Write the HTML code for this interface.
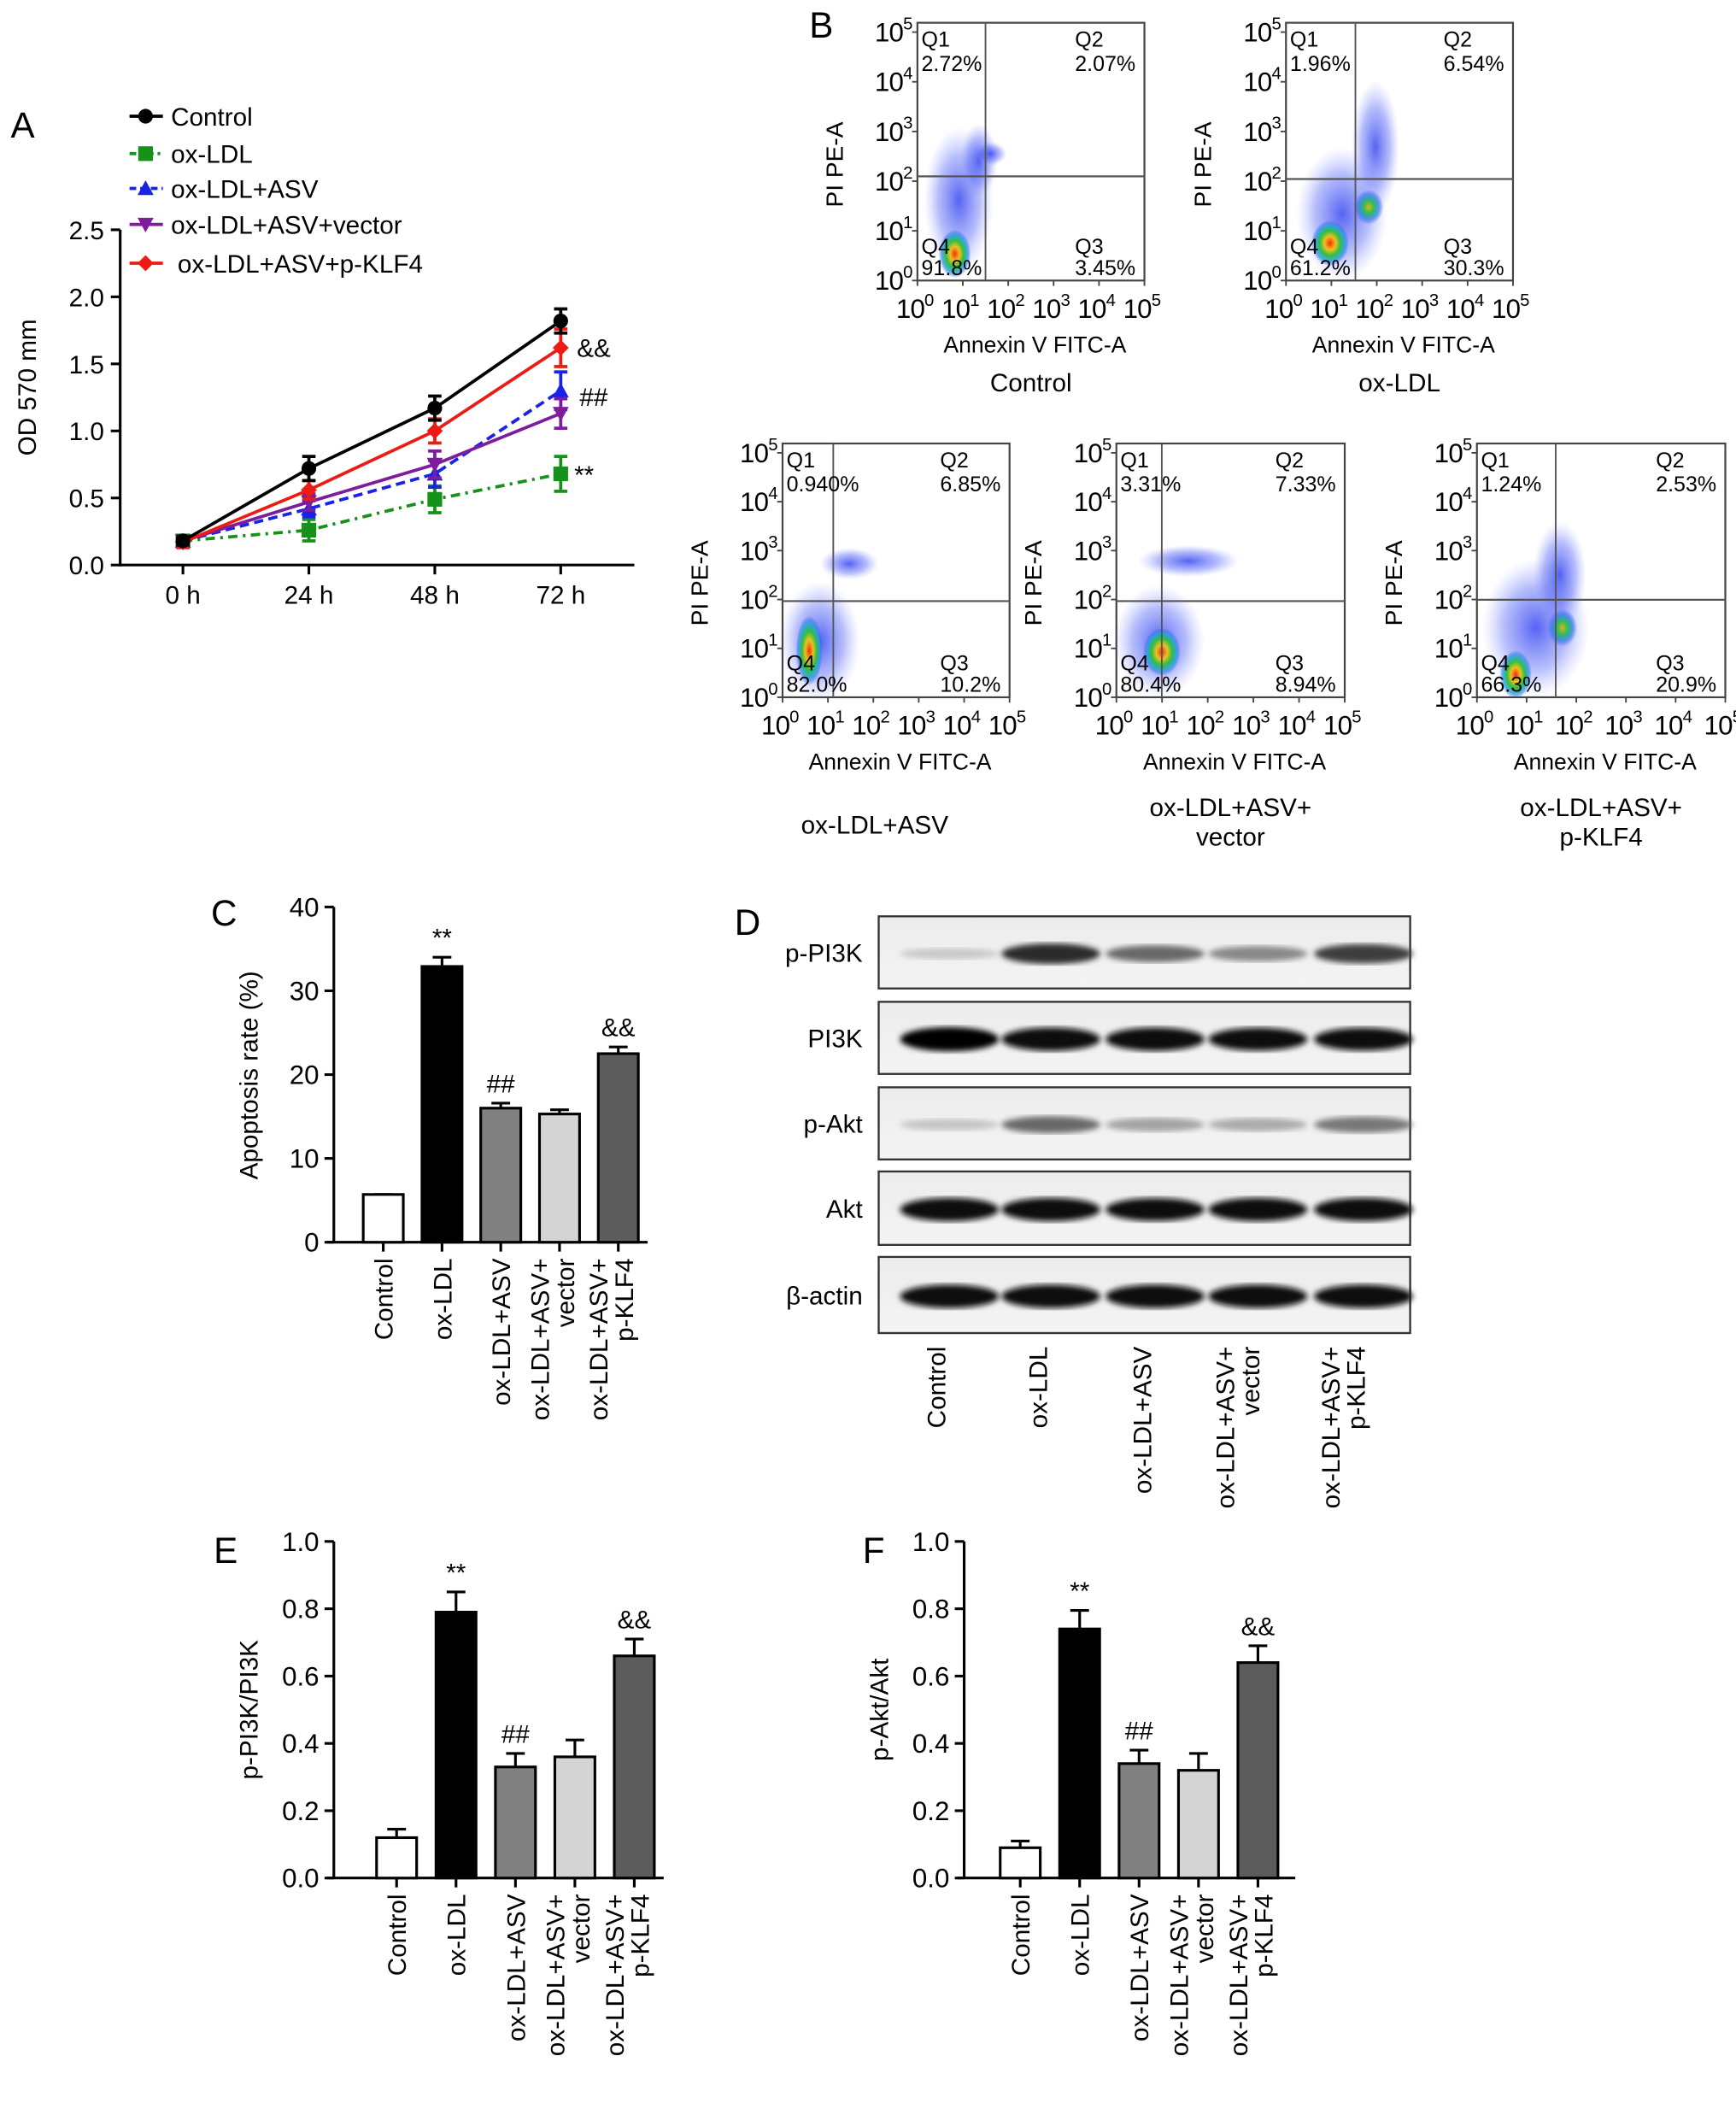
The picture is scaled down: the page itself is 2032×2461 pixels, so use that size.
<!DOCTYPE html>
<html><head><meta charset="utf-8"><style>
html,body{margin:0;padding:0;background:#fff;}
svg{display:block;font-family:"Liberation Sans",Arial,sans-serif;}
</style></head><body>
<svg id="fig" width="2032" height="2461" viewBox="0 0 1300 1574.4" xmlns="http://www.w3.org/2000/svg">
<defs>
<radialGradient id="gBlue"><stop offset="0" stop-color="#2a3cf0" stop-opacity="0.8"/><stop offset="0.6" stop-color="#4a5cf5" stop-opacity="0.4"/><stop offset="1" stop-color="#8a96ff" stop-opacity="0"/></radialGradient>
<radialGradient id="gHot"><stop offset="0" stop-color="#f03010"/><stop offset="0.3" stop-color="#f0c020"/><stop offset="0.55" stop-color="#30c040"/><stop offset="0.8" stop-color="#20a0e0" stop-opacity="0.8"/><stop offset="1" stop-color="#3040f0" stop-opacity="0"/></radialGradient>
<radialGradient id="gGreen"><stop offset="0" stop-color="#e0b020"/><stop offset="0.35" stop-color="#30c050"/><stop offset="0.7" stop-color="#2080e0" stop-opacity="0.7"/><stop offset="1" stop-color="#3040f0" stop-opacity="0"/></radialGradient>
<linearGradient id="blotBg" x1="0" y1="0" x2="0" y2="1"><stop offset="0" stop-color="#ececec"/><stop offset="1" stop-color="#f4f4f4"/></linearGradient>
<filter id="blur2"><feGaussianBlur stdDeviation="2.2"/></filter>
</defs>
<g id="panelA"></g>
<g id="panelB"></g>
<g id="panelC"></g>
<g id="panelD"></g>
<g id="panelE"></g>
<g id="panelF"></g>
</svg>
<script>
// ---------- DATA ----------
const timeLabels = ["0 h","24 h","48 h","72 h"];
const seriesNames = ["Control","ox-LDL","ox-LDL+ASV","ox-LDL+ASV+vector","ox-LDL+ASV+p-KLF4"];
const controlVals = [0.18,0.72,1.17,1.82];
const oxldlVals = [0.18,0.26,0.49,0.68];
const asvVals = [0.18,0.42,0.68,1.30];
const vectorVals = [0.18,0.47,0.75,1.13];
const klf4Vals = [0.17,0.56,1.00,1.62];
const controlErr = [0.03,0.09,0.09,0.09];
const oxldlErr = [0.03,0.08,0.10,0.13];
const asvErr = [0.03,0.06,0.10,0.14];
const vectorErr = [0.03,0.06,0.10,0.11];
const klf4Err = [0.04,0.07,0.09,0.14];
const odTicks = [0.0,0.5,1.0,1.5,2.0,2.5];

const groups = ["Control","ox-LDL","ox-LDL+ASV","ox-LDL+ASV+|vector","ox-LDL+ASV+|p-KLF4"];
const apoptosisVals = [5.7,32.9,16.0,15.3,22.5];
const apoptosisErr = [0,1.1,0.6,0.5,0.8];
const apoptosisTicks = [0,10,20,30,40];
const apoptosisMarks = ["","**","##","","&&"];
const pi3kVals = [0.12,0.79,0.33,0.36,0.66];
const pi3kErr = [0.025,0.06,0.04,0.05,0.05];
const aktVals = [0.09,0.74,0.34,0.32,0.64];
const aktErr = [0.02,0.055,0.04,0.05,0.05];
const fracTicks = [0.0,0.2,0.4,0.6,0.8,1.0];
const sigMarks = ["","**","##","","&&"];

const NS = "http://www.w3.org/2000/svg";
function mk(parent, tag, attrs, name, txt) {
  const el = document.createElementNS(NS, tag);
  for (const k in attrs) el.setAttribute(k, attrs[k]);
  
  
  if (txt !== undefined) el.textContent = txt;
  parent.appendChild(el);
  return el;
}

// ---------- PANEL A ----------
(function(){
  const g = document.getElementById('panelA');
  const x0 = 90, y0 = 423, yTop = 172, maxV = 2.5;
  const yA = v => y0 - v / maxV * (y0 - yTop);
  const xA = i => 137 + i * 94.3;
  mk(g,'text',{x:8,y:103,'font-size':27},'panel-label-a','A');
  mk(g,'line',{x1:x0,y1:yTop,x2:x0,y2:y0+1,stroke:'#000','stroke-width':2},'y-axis');
  mk(g,'line',{x1:x0-1,y1:y0,x2:475,y2:y0,stroke:'#000','stroke-width':2},'x-axis');
  odTicks.forEach(t=>{
    mk(g,'line',{x1:x0-7,y1:yA(t),x2:x0,y2:yA(t),stroke:'#000','stroke-width':2},'y-tick');
    mk(g,'text',{x:x0-12,y:yA(t)+7,'font-size':19,'text-anchor':'end'},'y-tick-label',t.toFixed(1));
  });
  timeLabels.forEach((l,i)=>{
    mk(g,'line',{x1:xA(i),y1:y0,x2:xA(i),y2:y0+7,stroke:'#000','stroke-width':2},'x-tick');
    mk(g,'text',{x:xA(i),y:y0+29,'font-size':19,'text-anchor':'middle'},'x-tick-label',l);
  });
  mk(g,'text',{x:0,y:0,'font-size':19,'text-anchor':'middle',transform:'translate(27,290) rotate(-90)'},'y-axis-title','OD 570 mm');
  const series = [
    {v:oxldlVals,e:oxldlErr,c:'#16921a',dash:'7,4,2,4',m:'sq'},
    {v:asvVals,e:asvErr,c:'#1a22e8',dash:'7,4',m:'tri'},
    {v:vectorVals,e:vectorErr,c:'#7e1d9c',dash:'',m:'dtri'},
    {v:klf4Vals,e:klf4Err,c:'#ee1a14',dash:'',m:'dia'},
    {v:controlVals,e:controlErr,c:'#000',dash:'',m:'circ'}
  ];
  function marker(gg,m,x,y,c,name){
    if(m==='circ') return mk(gg,'circle',{cx:x,cy:y,r:5.5,fill:c},name);
    if(m==='sq') return mk(gg,'rect',{x:x-5.5,y:y-5.5,width:11,height:11,fill:c},name);
    if(m==='tri') return mk(gg,'polygon',{points:`${x},${y-6} ${x-6},${y+5} ${x+6},${y+5}`,fill:c},name);
    if(m==='dtri') return mk(gg,'polygon',{points:`${x},${y+6} ${x-6},${y-5} ${x+6},${y-5}`,fill:c},name);
    return mk(gg,'polygon',{points:`${x},${y-6} ${x-6},${y} ${x},${y+6} ${x+6},${y}`,fill:c},name);
  }
  series.forEach((s,si)=>{
    const sg = mk(g,'g',{},'series-'+si);
    const pts = s.v.map((v,i)=>xA(i)+','+yA(v)).join(' ');
    const ln = mk(sg,'polyline',{points:pts,fill:'none',stroke:s.c,'stroke-width':2.4},'series-line');
    if(s.dash) ln.setAttribute('stroke-dasharray',s.dash);
    s.v.forEach((v,i)=>{
      const x=xA(i);
      mk(sg,'line',{x1:x,y1:yA(v+s.e[i]),x2:x,y2:yA(v-s.e[i]),stroke:s.c,'stroke-width':2.4},'error-bar');
      mk(sg,'line',{x1:x-5,y1:yA(v+s.e[i]),x2:x+5,y2:yA(v+s.e[i]),stroke:s.c,'stroke-width':2.4},'error-cap');
      mk(sg,'line',{x1:x-5,y1:yA(v-s.e[i]),x2:x+5,y2:yA(v-s.e[i]),stroke:s.c,'stroke-width':2.4},'error-cap');
      marker(sg,s.m,x,yA(v),s.c,'data-point');
    });
  });
  mk(g,'text',{x:432,y:267,'font-size':19},'sig-klf4','&&');
  mk(g,'text',{x:434,y:304,'font-size':19},'sig-asv','##');
  mk(g,'text',{x:430,y:362,'font-size':19},'sig-oxldl','**');
  const leg = [
    {n:seriesNames[0],c:'#000',d:'',m:'circ',y:87},
    {n:seriesNames[1],c:'#16921a',d:'5,3,2,3',m:'sq',y:115},
    {n:seriesNames[2],c:'#1a22e8',d:'5,3',m:'tri',y:141},
    {n:seriesNames[3],c:'#7e1d9c',d:'',m:'dtri',y:168},
    {n:seriesNames[4],c:'#ee1a14',d:'',m:'dia',y:197}
  ];
  leg.forEach((l,i)=>{
    const lg = mk(g,'g',{},'legend-entry');
    const ln = mk(lg,'line',{x1:97,y1:l.y,x2:122,y2:l.y,stroke:l.c,'stroke-width':2.4},'legend-line');
    if(l.d) ln.setAttribute('stroke-dasharray',l.d);
    marker(lg,l.m,109,l.y,l.c,'legend-marker');
    mk(lg,'text',{x:i===4?133:128,y:l.y+7,'font-size':19},'legend-label',l.n);
  });
})();

// ---------- PANEL B (flow cytometry) ----------
(function(){
  const g = document.getElementById('panelB');
  mk(g,'text',{x:606,y:28,'font-size':27},'panel-label-b','B');
  const plots = [
    {x:687,y:17,w:170,h:193,vg:738,hg:132,q:['2.72%','2.07%','91.8%','3.45%'],title:['Control'],ty:293,
      blobs:[['gBlue',718,150,26,55],['gBlue',733,120,14,28],['gBlue',742,115,12,9],['gHot',715,190,12,18]]},
    {x:963,y:17,w:170,h:193,vg:1015,hg:134,q:['1.96%','6.54%','61.2%','30.3%'],title:['ox-LDL'],ty:293,
      blobs:[['gBlue',1005,160,34,50],['gBlue',1030,110,18,50],['gGreen',1025,155,11,13],['gHot',996,182,14,17]]},
    {x:586,y:332,w:170,h:190,vg:624,hg:450,q:['0.940%','6.85%','82.0%','10.2%'],title:['ox-LDL+ASV'],ty:624,
      blobs:[['gBlue',614,480,30,45],['gBlue',636,422,22,12],['gHot',606,487,10,26]]},
    {x:836,y:332,w:171,h:190,vg:870,hg:450,q:['3.31%','7.33%','80.4%','8.94%'],title:['ox-LDL+ASV+','vector'],ty:611,
      blobs:[['gBlue',868,480,34,42],['gBlue',890,420,38,12],['gHot',870,488,14,18]]},
    {x:1106,y:332,w:186,h:190,vg:1165,hg:449,q:['1.24%','2.53%','66.3%','20.9%'],title:['ox-LDL+ASV+','p-KLF4'],ty:611,
      blobs:[['gBlue',1150,470,40,52],['gBlue',1168,430,20,40],['gGreen',1170,470,11,14],['gHot',1135,505,12,18]]}
  ];
  plots.forEach((p,pi)=>{
    const pg = mk(g,'g',{},'flow-plot-'+pi);
    p.blobs.forEach(b=>mk(pg,'ellipse',{cx:b[1],cy:b[2],rx:b[3],ry:b[4],fill:'url(#'+b[0]+')'},'cell-density'));
    mk(pg,'rect',{x:p.x,y:p.y,width:p.w,height:p.h,fill:'none',stroke:'#444','stroke-width':1.4},'plot-frame');
    mk(pg,'line',{x1:p.vg,y1:p.y,x2:p.vg,y2:p.y+p.h,stroke:'#555','stroke-width':1.2},'gate-vertical');
    mk(pg,'line',{x1:p.x,y1:p.hg,x2:p.x+p.w,y2:p.hg,stroke:'#555','stroke-width':1.4},'gate-horizontal');
    const fs=16;
    mk(pg,'text',{x:p.x+3,y:p.y+18,'font-size':fs},'q1-label','Q1');
    mk(pg,'text',{x:p.x+3,y:p.y+36,'font-size':fs},'q1-value',p.q[0]);
    mk(pg,'text',{x:p.x+p.w-52,y:p.y+18,'font-size':fs},'q2-label','Q2');
    mk(pg,'text',{x:p.x+p.w-52,y:p.y+36,'font-size':fs},'q2-value',p.q[1]);
    mk(pg,'text',{x:p.x+3,y:p.y+p.h-20,'font-size':fs},'q4-label','Q4');
    mk(pg,'text',{x:p.x+3,y:p.y+p.h-4,'font-size':fs},'q4-value',p.q[2]);
    mk(pg,'text',{x:p.x+p.w-52,y:p.y+p.h-20,'font-size':fs},'q3-label','Q3');
    mk(pg,'text',{x:p.x+p.w-52,y:p.y+p.h-4,'font-size':fs},'q3-value',p.q[3]);
    for(let k=0;k<=5;k++){
      const yy = p.y+p.h - k*(p.h-7)/5;
      const t = mk(pg,'text',{x:p.x-4,y:yy+7,'font-size':20,'text-anchor':'end','letter-spacing':'-0.5'},'y-tick-label');
      t.innerHTML = '10<tspan dy="-9" font-size="13">'+k+'</tspan>';
      const xx = p.x + k*p.w/5;
      const t2 = mk(pg,'text',{x:xx-2,y:p.y+p.h+28,'font-size':20,'text-anchor':'middle','letter-spacing':'-0.5'},'x-tick-label');
      t2.innerHTML = '10<tspan dy="-9" font-size="13">'+k+'</tspan>';
      mk(pg,'line',{x1:xx,y1:p.y+p.h,x2:xx,y2:p.y+p.h+4,stroke:'#444','stroke-width':1.2},'x-tick');
      mk(pg,'line',{x1:p.x-4,y1:yy,x2:p.x,y2:yy,stroke:'#444','stroke-width':1.2},'y-tick');
    }
    mk(pg,'text',{x:0,y:0,'font-size':18,'text-anchor':'middle',transform:`translate(${p.x-56},${p.y+p.h*0.55}) rotate(-90)`},'y-axis-title','PI PE-A');
    mk(pg,'text',{x:p.x+p.w/2+3,y:p.y+p.h+54,'font-size':17,'text-anchor':'middle'},'x-axis-title','Annexin V FITC-A');
    p.title.forEach((t,i)=>mk(pg,'text',{x:p.x+p.w/2+ (pi===2?-16:0),y:p.ty+i*22,'font-size':19,'text-anchor':'middle'},'plot-title',t));
  });
})();

// ---------- BAR CHARTS ----------
function barChart(gid, letter, lx, ly, cfg){
  const g = document.getElementById(gid);
  mk(g,'text',{x:lx,y:ly,'font-size':27},'panel-label-'+letter.toLowerCase(),letter);
  const yS = v => cfg.y0 - v/cfg.max*(cfg.y0-cfg.yTop);
  const xS = i => cfg.c0 + i*cfg.step;
  const fills = ['#ffffff','#000000','#808080','#d4d4d4','#5c5c5c'];
  mk(g,'line',{x1:cfg.ax,y1:cfg.yTop,x2:cfg.ax,y2:cfg.y0,stroke:'#000','stroke-width':2},'y-axis');
  mk(g,'line',{x1:cfg.ax-5,y1:cfg.y0,x2:cfg.xEnd,y2:cfg.y0,stroke:'#000','stroke-width':2},'x-axis');
  cfg.ticks.forEach(t=>{
    mk(g,'line',{x1:cfg.ax-7,y1:yS(t),x2:cfg.ax,y2:yS(t),stroke:'#000','stroke-width':2},'y-tick');
    mk(g,'text',{x:cfg.ax-11,y:yS(t)+7,'font-size':20,'text-anchor':'end'},'y-tick-label',cfg.fmt(t));
  });
  mk(g,'text',{x:0,y:0,'font-size':19,'text-anchor':'middle',transform:`translate(${cfg.titleX},${cfg.titleY}) rotate(-90)`},'y-axis-title',cfg.title);
  cfg.vals.forEach((v,i)=>{
    const x = xS(i);
    mk(g,'line',{x1:x,y1:yS(v+cfg.err[i]),x2:x,y2:yS(v),stroke:'#000','stroke-width':2},'error-bar');
    mk(g,'line',{x1:x-7,y1:yS(v+cfg.err[i]),x2:x+7,y2:yS(v+cfg.err[i]),stroke:'#000','stroke-width':2},'error-cap');
    mk(g,'rect',{x:x-15,y:yS(v),width:30,height:cfg.y0-yS(v),fill:fills[i],stroke:'#000','stroke-width':2},'bar-'+i);
    mk(g,'line',{x1:x,y1:cfg.y0,x2:x,y2:cfg.y0+7,stroke:'#000','stroke-width':2},'x-tick');
    if(cfg.marks[i]) mk(g,'text',{x:x,y:yS(v+cfg.err[i])-8,'font-size':19,'text-anchor':'middle'},'significance-mark',cfg.marks[i]);
    const parts = groups[i].split('|');
    parts.forEach((pt,k)=>{
      const off = parts.length===2 ? (k===0?-8:11) : 7;
      mk(g,'text',{x:0,y:0,'font-size':19,'text-anchor':'end',transform:`translate(${x+off},${cfg.y0+12}) rotate(-90)`},'x-tick-label',pt);
    });
  });
}
barChart('panelC','C',158,693,{ax:250,y0:930,yTop:679,max:40,c0:287,step:44,xEnd:485,ticks:apoptosisTicks,fmt:t=>String(t),
  vals:apoptosisVals,err:apoptosisErr,marks:apoptosisMarks,title:'Apoptosis rate (%)',titleX:193,titleY:805});
barChart('panelE','E',160,1170,{ax:250,y0:1406,yTop:1154,max:1.0,c0:297,step:44.5,xEnd:497,ticks:fracTicks,fmt:t=>t.toFixed(1),
  vals:pi3kVals,err:pi3kErr,marks:sigMarks,title:'p-PI3K/PI3K',titleX:193,titleY:1280});
barChart('panelF','F',646,1170,{ax:722,y0:1406,yTop:1154,max:1.0,c0:764,step:44.5,xEnd:970,ticks:fracTicks,fmt:t=>t.toFixed(1),
  vals:aktVals,err:aktErr,marks:sigMarks,title:'p-Akt/Akt',titleX:665,titleY:1280});

// ---------- PANEL D (western blot) ----------
const blotRows = ["p-PI3K","PI3K","p-Akt","Akt","β-actin"];
const bandIntensity = [
  [0.18,0.78,0.55,0.45,0.7],
  [1,0.95,0.95,0.92,0.92],
  [0.2,0.55,0.35,0.32,0.5],
  [0.95,0.95,0.92,0.95,0.95],
  [0.95,0.95,0.95,0.95,0.95]
];
(function(){
  const g = document.getElementById('panelD');
  mk(g,'text',{x:550,y:700,'font-size':27},'panel-label-d','D');
  const bx = 658, bw = 398;
  const rowsY = [686,750,814,877,941];
  const rowH = [54,54,54,55,57];
  const lanes = [711,787,865,942,1021];
  blotRows.forEach((r,ri)=>{
    const rg = mk(g,'g',{},'blot-row-'+r.toLowerCase());
    mk(rg,'rect',{x:bx,y:rowsY[ri],width:bw,height:rowH[ri],fill:'url(#blotBg)',stroke:'#333','stroke-width':1.5},'blot-strip');
    lanes.forEach((lx,li)=>{
      const a = bandIntensity[ri][li];
      const lum = Math.round(200 - a*200);
      mk(rg,'ellipse',{cx:lx,cy:rowsY[ri]+rowH[ri]/2+1,rx:37,ry:3+a*6,fill:`rgb(${lum},${lum},${lum})`,opacity:Math.min(1,0.35+a),filter:'url(#blur2)'},'band');
    });
    mk(rg,'text',{x:646,y:rowsY[ri]+rowH[ri]/2+7,'font-size':19,'text-anchor':'end'},'blot-label',r);
  });
  groups.forEach((gname,i)=>{
    const parts = gname.split('|');
    parts.forEach((pt,k)=>{
      const off = parts.length===2 ? (k===0?-8:11) : 7;
      mk(g,'text',{x:0,y:0,'font-size':19,'text-anchor':'end',transform:`translate(${lanes[i]-10+off},1008) rotate(-90)`},'lane-label',pt);
    });
  });
})();
</script>
</body></html>
